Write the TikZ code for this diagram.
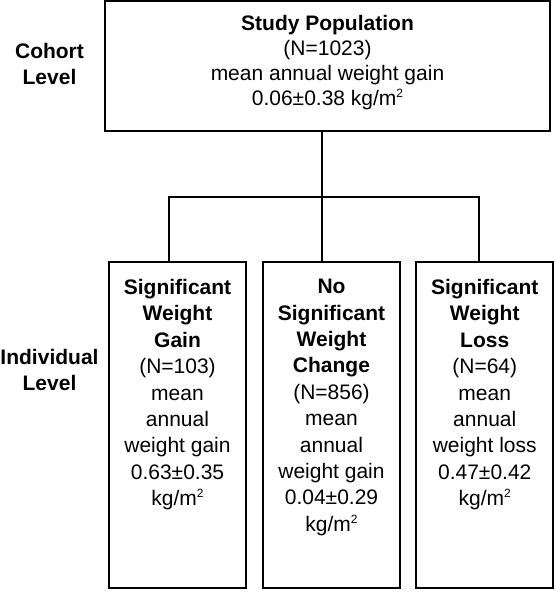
\documentclass[tikz,border=0pt]{standalone}
\usepackage{fontspec}
\setmainfont{Liberation Sans}
\newcommand{\sqm}{kg/m\raisebox{8pt}{\fontsize{12}{12}\selectfont 2}}
\begin{document}
\begin{tikzpicture}[x=1pt,y=-1pt,
  box/.style={draw=black, line width=2pt, fill=white, rectangle, inner sep=0pt},
  conn/.style={draw=black, line width=2pt},
  toptext/.style={align=center, inner sep=0pt, anchor=north, font=\fontsize{21}{25}\selectfont},
  subtext/.style={align=center, inner sep=0pt, anchor=north, font=\fontsize{21}{26.4}\selectfont},
  lbl/.style={align=center, inner sep=0pt, anchor=north, font=\fontsize{21}{26.4}\selectfont\bfseries}]
\useasboundingbox (0,0) rectangle (555,592);
% boxes
\node[box, minimum width=445pt, minimum height=130pt] (top) at (327.5,66) {};
\node[box, minimum width=137pt, minimum height=326pt] (b1) at (177.5,425) {};
\node[box, minimum width=137pt, minimum height=326pt] (b2) at (331.5,425) {};
\node[box, minimum width=137pt, minimum height=326pt] (b3) at (484.75,425) {};
% connectors
\coordinate (j) at (322,196.7);
\coordinate (bl) at (169,196.7);
\coordinate (br) at (479,196.7);
\draw[conn] (top.south -| j) -- (b2.north -| j);
\draw[conn] (b1.north -| bl) -- (bl) -- (br) -- (b3.north -| br);
% texts
\node[toptext] (ttop) at ([yshift=-15.5pt]top.north) {\textbf{Study Population}\\(N=1023)\\mean annual weight gain\\0.06±0.38 \sqm};
\node[subtext] (t1) at ([yshift=-18pt]b1.north) {\textbf{Significant}\\\textbf{Weight}\\\textbf{Gain}\\(N=103)\\mean\\annual\\weight gain\\0.63±0.35\\\sqm};
\node[subtext] (t2) at ([yshift=-18pt]b2.north) {\textbf{No}\\\textbf{Significant}\\\textbf{Weight}\\\textbf{Change}\\(N=856)\\mean\\annual\\weight gain\\0.04±0.29\\\sqm};
\node[subtext] (t3) at ([yshift=-18pt]b3.north) {\textbf{Significant}\\\textbf{Weight}\\\textbf{Loss}\\(N=64)\\mean\\annual\\weight loss\\0.47±0.42\\\sqm};
% level labels
\node[lbl] (cohort) at (49.5,42.7) {Cohort\\Level};
\node[lbl] (indiv) at (49.5,349) {Individual\\Level};
\end{tikzpicture}
\end{document}
